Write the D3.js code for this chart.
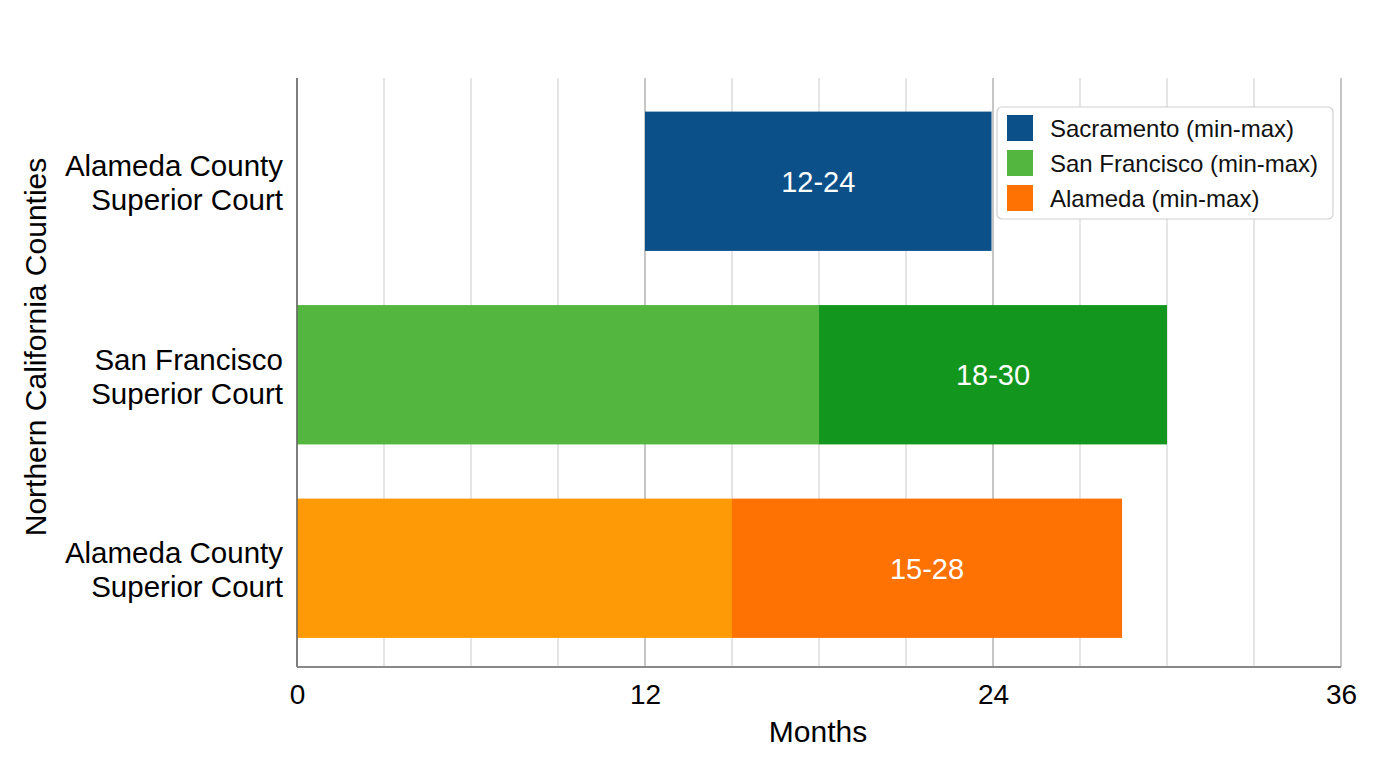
<!DOCTYPE html>
<html>
<head>
<meta charset="utf-8">
<script src="https://cdn.jsdelivr.net/npm/d3@7"></script>
<style>
  html, body { margin: 0; padding: 0; background: #fff; }
  svg text { font-family: "Liberation Sans", Arial, sans-serif; }
</style>
</head>
<body>
<svg id="chart" width="1376" height="768"></svg>
<script>
// data
const courts = ["Alameda County|Superior Court", "San Francisco|Superior Court", "Alameda County|Superior Court"];
const series = ["Sacramento (min-max)", "San Francisco (min-max)", "Alameda (min-max)"];
const minMonths = [12, 18, 15];
const maxMonths = [23.95, 30, 28.45];   // drawn bar ends
const rangeLabels = ["12-24", "18-30", "15-28"];
const hasLead = [false, true, true];   // light bar from 0 to min
const leadColors = ["#0b5088", "#53b63e", "#fd9a06"];
const rangeColors = ["#0b5088", "#13961e", "#fe7103"];
const legendColors = ["#0b5088", "#53b63e", "#fe7103"];
const majorTicks = [0, 12, 24, 36];

const svg = d3.select("#chart");
const plotL = 297, plotR = 1341, plotT = 78, plotB = 667;

const x = d3.scaleLinear().domain([0, 36]).range([plotL, plotR]);
const y = d3.scaleBand().domain(d3.range(courts.length)).range([84.5, 665])
  .paddingInner(0.28).paddingOuter(0.14);

const rowsData = courts.map((c, i) => ({
  i, name: c, lo: minMonths[i], hi: maxMonths[i], label: rangeLabels[i], lead: hasLead[i]
}));

// grid
const grid = svg.append("g");
grid.selectAll("line").data(d3.range(0, 37, 3)).join("line")
  .attr("x1", d => x(d)).attr("x2", d => x(d))
  .attr("y1", plotT).attr("y2", plotB)
  .attr("stroke", d => majorTicks.includes(d) ? "#a0a0a0" : "#d4d4d4")
  .attr("stroke-width", 1.2);

// bars
const rows = svg.append("g").selectAll("g").data(rowsData).join("g");
rows.filter(d => d.lead).append("rect")
  .attr("x", x(0))
  .attr("y", d => y(d.i))
  .attr("width", d => x(d.lo) - x(0))
  .attr("height", y.bandwidth())
  .attr("fill", d => leadColors[d.i]);
rows.append("rect")
  .attr("x", d => x(d.lo))
  .attr("y", d => y(d.i))
  .attr("width", d => x(d.hi) - x(d.lo))
  .attr("height", y.bandwidth())
  .attr("fill", d => rangeColors[d.i]);
rows.append("text")
  .attr("x", d => (x(d.lo) + x(d.hi)) / 2)
  .attr("y", d => y(d.i) + y.bandwidth() / 2)
  .attr("dy", "0.36em")
  .attr("text-anchor", "middle")
  .attr("fill", "#fff")
  .attr("font-size", 29)
  .text(d => d.label);

// axes lines
svg.append("line").attr("x1", plotL).attr("x2", plotL).attr("y1", plotT).attr("y2", plotB)
  .attr("stroke", "#666").attr("stroke-width", 1.5);
svg.append("line").attr("x1", plotL).attr("x2", plotR).attr("y1", plotB).attr("y2", plotB)
  .attr("stroke", "#888").attr("stroke-width", 2);

// x axis
const xAxis = d3.axisBottom(x).tickValues(majorTicks).tickSize(0).tickPadding(17);
const gx = svg.append("g").attr("transform", `translate(0,${plotB})`).call(xAxis);
gx.select(".domain").remove();
gx.selectAll("text").attr("font-size", 28).attr("fill", "#000")
  .style("font-family", "'Liberation Sans', Arial, sans-serif");

svg.append("text").attr("x", 818).attr("y", 742).attr("text-anchor", "middle")
  .attr("font-size", 30).attr("fill", "#000").text("Months");

// y labels
const yl = svg.append("g").selectAll("text").data(rowsData).join("text")
  .attr("text-anchor", "end")
  .attr("font-size", 29.5)
  .attr("fill", "#000")
  .attr("transform", d => `translate(283,${y(d.i) + y.bandwidth() / 2})`);
yl.selectAll("tspan").data(d => d.name.split("|")).join("tspan")
  .attr("x", 0)
  .attr("y", (d, j) => j === 0 ? -5 : 29)
  .text(d => d);

svg.append("text")
  .attr("transform", "translate(46,347) rotate(-90)")
  .attr("text-anchor", "middle")
  .attr("font-size", 30).attr("fill", "#000")
  .text("Northern California Counties");

// legend
const lg = svg.append("g").attr("transform", "translate(997,107)");
lg.append("rect").attr("width", 336).attr("height", 112).attr("rx", 5)
  .attr("fill", "#fff").attr("stroke", "#d0d0d0").attr("stroke-width", 1.2);
const li = lg.selectAll("g.item").data(series).join("g").attr("class", "item")
  .attr("transform", (d, i) => `translate(10,${21 + i * 35})`);
li.append("rect").attr("y", -13).attr("width", 26).attr("height", 26)
  .attr("fill", (d, i) => legendColors[i]);
li.append("text").attr("x", 43).attr("dy", "0.36em").attr("font-size", 24).attr("fill", "#111")
  .text(d => d);
</script>
</body>
</html>
